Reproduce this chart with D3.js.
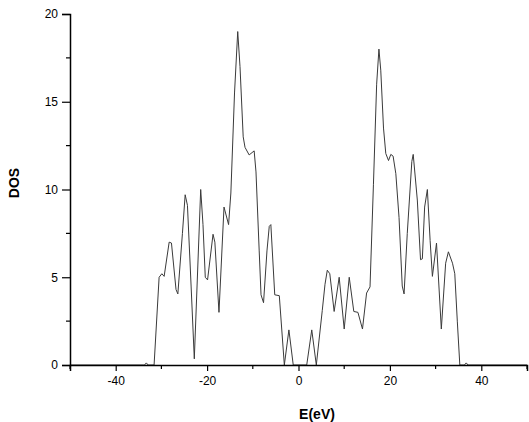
<!DOCTYPE html>
<html>
<head>
<meta charset="utf-8">
<script src="https://cdn.jsdelivr.net/npm/d3@7"></script>
<style>
  body { margin: 0; background: #fff; }
  svg { display: block; }
  text { font-family: "Liberation Sans", Arial, sans-serif; fill: #000; }
</style>
</head>
<body>
<div id="chart"></div>
<script>
// energy (eV) and density of states
var energy = [-50, -34, -33.7, -33.3, -32.9, -31.6, -30.5, -29.9, -29.4, -28.3, -27.8, -26.8, -26.4, -25.4, -24.8, -24.3, -23.5, -22.8,
  -21.4, -20.9, -20.4, -19.9, -18.7, -18.3, -17.4, -16.3, -15.3, -14.8, -14.0, -13.3, -12.8, -12.1, -11.7, -10.8, -9.7, -9.3,
  -8.6, -8.2, -7.65, -6.9, -6.4, -6.05, -5.2, -4.2, -3.1, -2.1, -1.15, 1.8, 2.9, 3.9, 5.2, 5.8, 6.3, 6.85, 7.8, 8.9, 10.0,
  11.1, 12.1, 13.0, 14.0, 14.9, 15.65, 16.4, 17.1, 17.6, 18.0, 18.6, 19.1, 19.7, 20.2, 20.7, 21.3, 22.0, 22.7, 23.1, 23.8,
  24.8, 25.1, 26.0, 26.7, 27.1, 27.6, 28.2, 28.8, 29.3, 30.2, 31.25, 32.2, 32.8, 33.7, 34.2, 34.75, 35.3, 36.3, 36.7, 37.1, 50];
var dos = [0, 0, 0, 0.12, 0, 0, 5.0, 5.2, 5.05, 7.0, 6.95, 4.3, 4.05, 7.5, 9.7, 9.1, 4.5, 0.35,
  10.0, 8.0, 5.0, 4.85, 7.45, 7.0, 3.0, 9.0, 8.0, 9.8, 15.5, 19.0, 17.0, 13.0, 12.4, 11.97, 12.2, 11.0,
  6.5, 4.0, 3.55, 6.5, 7.9, 8.0, 4.0, 3.95, 0, 2.0, 0, 0, 2.0, 0, 3.1, 4.6, 5.4, 5.2, 3.05, 5.0, 2.05,
  5.0, 3.05, 3.0, 2.05, 4.1, 4.45, 10.3, 16.0, 18.0, 16.8, 13.5, 12.05, 11.65, 12.0, 11.9, 10.9, 8.4, 4.5, 4.05, 7.5,
  11.6, 12.0, 9.4, 6.0, 6.05, 9.0, 10.0, 7.1, 5.05, 6.95, 2.05, 5.8, 6.45, 5.8, 5.2, 2.5, 0, 0, 0.12, 0, 0];

var xMajor = [-40, -20, 0, 20, 40];
var xMinor = [-50, -30, -10, 10, 30, 50];
var yMajor = [0, 5, 10, 15, 20];
var yMinor = [2.5, 7.5, 12.5, 17.5];

var width = 529, height = 422;
var plotLeft = 70, plotRight = 527, plotTop = 14, plotBottom = 365;

var svg = d3.select("#chart").append("svg")
    .attr("width", width)
    .attr("height", height);

var x = d3.scaleLinear().domain([-50, 50]).range([plotLeft, plotRight]);
var y = d3.scaleLinear().domain([0, 20]).range([plotBottom, plotTop]);

var data = energy.map(function(e, i) { return {e: e, d: dos[i]}; });

var line = d3.line()
    .x(function(d) { return x(d.e); })
    .y(function(d) { return y(d.d); });

svg.append("path")
    .datum(data)
    .attr("fill", "none")
    .attr("stroke", "#3a3a3a")
    .attr("stroke-width", 1)
    .attr("stroke-linejoin", "round")
    .attr("d", line);

var fmt = function(d) { return String(d); };

// x axis
var gx = svg.append("g").attr("transform", "translate(0," + plotBottom + ")");
gx.call(d3.axisBottom(x).tickValues(xMajor).tickSize(6).tickPadding(5).tickFormat(fmt));
gx.append("g").selectAll("line").data(xMinor).enter().append("line")
    .attr("x1", function(d) { return x(d); }).attr("x2", function(d) { return x(d); })
    .attr("y1", 0).attr("y2", 4)
    .attr("stroke", "#000").attr("stroke-width", 1.2);

// y axis
var gy = svg.append("g").attr("transform", "translate(" + plotLeft + ",0)");
gy.call(d3.axisLeft(y).tickValues(yMajor).tickSize(8).tickPadding(4).tickFormat(fmt));
gy.append("g").selectAll("line").data(yMinor).enter().append("line")
    .attr("y1", function(d) { return y(d); }).attr("y2", function(d) { return y(d); })
    .attr("x1", 0).attr("x2", -4)
    .attr("stroke", "#000").attr("stroke-width", 1.2);

svg.selectAll(".domain").attr("stroke", "#000").attr("stroke-width", 1.5);
svg.selectAll(".tick line").attr("stroke", "#000").attr("stroke-width", 1.2);
svg.selectAll(".tick text").style("font-size", "12px").style("font-family", "Liberation Sans, Arial, sans-serif");

// axis titles
svg.append("text")
    .attr("x", 317).attr("y", 419)
    .attr("text-anchor", "middle")
    .style("font-size", "14px").style("font-weight", "bold")
    .text("E(eV)");

svg.append("text")
    .attr("transform", "translate(19,183) rotate(-90)")
    .attr("text-anchor", "middle")
    .style("font-size", "14px").style("font-weight", "bold")
    .text("DOS");
</script>
</body>
</html>
